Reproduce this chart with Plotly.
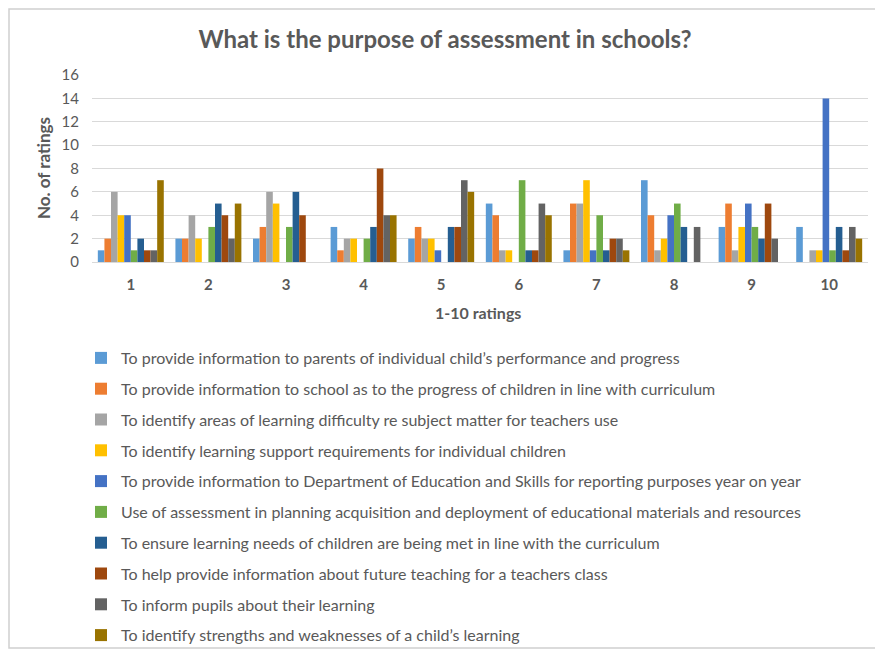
import plotly.graph_objects as go

categories = ["1", "2", "3", "4", "5", "6", "7", "8", "9", "10"]
series_names = [
    "To provide information to parents of individual child\u2019s performance and progress",
    "To provide information to school as to the progress of children in line with curriculum",
    "To identify areas of learning difficulty re subject matter for teachers use",
    "To identify learning support requirements for individual children",
    "To provide information to Department of Education and Skills for reporting purposes year on year",
    "Use of assessment in planning acquisition and deployment of educational materials and resources",
    "To ensure learning needs of children are being met in line with the curriculum",
    "To help provide information about future teaching for a teachers class",
    "To inform pupils about their learning",
    "To identify strengths and weaknesses of a child\u2019s learning",
]
s1 = [1, 2, 2, 3, 2, 5, 1, 7, 3, 3]
s2 = [2, 2, 3, 1, 3, 4, 5, 4, 5, 0]
s3 = [6, 4, 6, 2, 2, 1, 5, 1, 1, 1]
s4 = [4, 2, 5, 2, 2, 1, 7, 2, 3, 1]
s5 = [4, 0, 0, 0, 1, 0, 1, 4, 5, 14]
s6 = [1, 3, 3, 2, 0, 7, 4, 5, 3, 1]
s7 = [2, 5, 6, 3, 3, 1, 1, 3, 2, 3]
s8 = [1, 4, 4, 8, 3, 1, 2, 0, 5, 1]
s9 = [1, 2, 0, 4, 7, 5, 2, 3, 2, 3]
s10 = [7, 5, 0, 4, 6, 4, 1, 0, 0, 2]
series_values = [s1, s2, s3, s4, s5, s6, s7, s8, s9, s10]
colors = ["#5B9BD5", "#ED7D31", "#A5A5A5", "#FFC000", "#4472C4",
          "#70AD47", "#255E91", "#9E480E", "#636363", "#997300"]

FONT = "Lato"
GREY = "#595959"

fig = go.Figure()
for i, (name, vals) in enumerate(zip(series_names, series_values)):
    fig.add_trace(go.Bar(
        x=categories, y=vals, name=name, marker_color=colors[i],
        marker_line_width=0, legendgroup=f"g{i}",
    ))

# page has an 8px body margin: figure origin sits at page (8, 8)
OFF = 8
W, H = 883 - OFF, 654 - OFF
# plot area in page pixels
PL, PR, PT, PB = 92, 868, 75, 262
L, R, T, B = PL - OFF, W - (PR - OFF), PT - OFF, H - (PB - OFF)
pw = W - L - R
ph = H - T - B

def px_x(x):
    return (x - OFF - L) / pw

def px_y(y):
    return (H - B - (y - OFF)) / ph

fig.update_layout(
    width=W, height=H,
    margin=dict(l=L, r=R, t=T, b=B, autoexpand=False),
    paper_bgcolor="white", plot_bgcolor="white",
    font=dict(family=FONT, color=GREY, size=15),
    barmode="group", bargap=0.15, bargroupgap=0,
    title=dict(text="<b>What is the purpose of assessment in schools?</b>",
               x=(445 - OFF) / W, xref="container", xanchor="center",
               y=1 - (40 - OFF) / H, yanchor="middle",
               font=dict(size=24, color=GREY, family=FONT)),
    showlegend=True,
    legend=dict(
        x=px_x(81), y=px_y(341), xanchor="left", yanchor="top",
        orientation="v", tracegroupgap=7, bgcolor="rgba(0,0,0,0)",
        font=dict(size=16, color=GREY, family=FONT),
    ),
    xaxis=dict(
        type="category", showgrid=False, showline=True, linecolor="#D9D9D9",
        ticks="", tickfont=dict(size=15, color=GREY, family=FONT),
        tickprefix="<b>", ticksuffix="</b>", ticklabelstandoff=9,
    ),
    yaxis=dict(
        range=[0, 16], dtick=2, showgrid=True, gridcolor="#D9D9D9",
        zeroline=False, showline=False, ticks="",
        tickfont=dict(size=15, color=GREY, family=FONT),
        ticklabelstandoff=12,
    ),
    annotations=[
        dict(text="<b>No. of ratings</b>", textangle=-90, xref="paper", yref="paper",
             x=px_x(43), y=px_y(168), xanchor="center", yanchor="middle",
             showarrow=False, font=dict(size=17, color=GREY, family=FONT)),
        dict(text="<b>1-10 ratings</b>", xref="paper", yref="paper",
             x=px_x(478), y=px_y(312), xanchor="center", yanchor="middle",
             showarrow=False, font=dict(size=16, color=GREY, family=FONT)),
    ],
    shapes=[
        dict(type="rect", xref="paper", yref="paper",
             x0=px_x(9), x1=px_x(878), y0=px_y(648), y1=px_y(9),
             line=dict(color="#D0D0D0", width=1.5), fillcolor="rgba(0,0,0,0)"),
    ],
)

fig.write_html("out.html")
